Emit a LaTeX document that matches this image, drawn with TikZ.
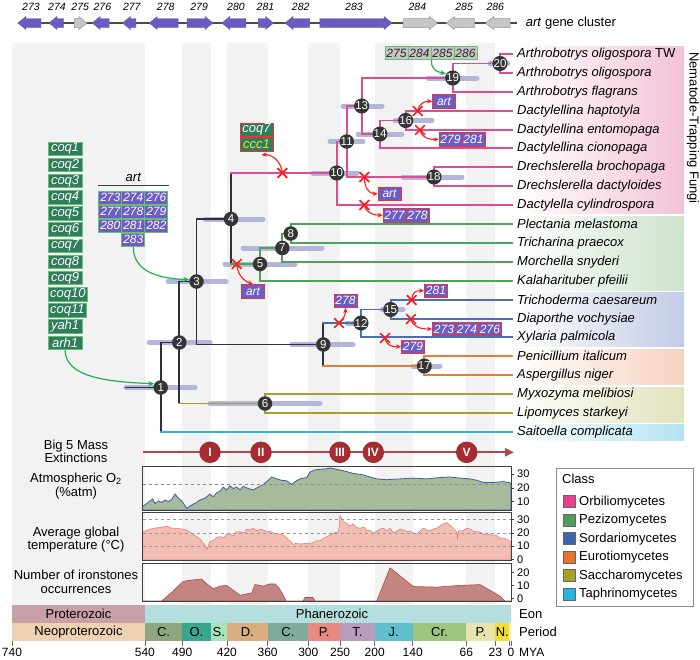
\documentclass[tikz,border=0pt]{standalone}
\usepackage{fontspec}
\setmainfont{Liberation Sans}
\usetikzlibrary{arrows.meta,shapes.misc,calc}
\pgfdeclarelayer{L0}
\pgfdeclarelayer{L1}
\pgfdeclarelayer{L2}
\pgfsetlayers{L0,L1,L2,main}
\definecolor{stripe}{HTML}{F2F2F2}
\definecolor{darkl}{HTML}{2E2E3C}
\definecolor{pinkl}{HTML}{DB4F8F}
\definecolor{greenl}{HTML}{4DA35A}
\definecolor{bluel}{HTML}{4A6FB8}
\definecolor{orangel}{HTML}{E87E35}
\definecolor{olivel}{HTML}{A6A030}
\definecolor{cyanl}{HTML}{2DB8DC}
\definecolor{barc}{HTML}{B3B6DA}
\definecolor{nodeg}{HTML}{353535}
\definecolor{artp}{HTML}{6B5CC6}
\definecolor{mred}{HTML}{E8323C}
\definecolor{cellg}{HTML}{62C070}
\definecolor{coqg}{HTML}{2F7D5B}
\definecolor{geneg}{HTML}{C6C6C6}
\definecolor{arrg}{HTML}{22B04A}
\definecolor{xred}{HTML}{FF1A1A}
\definecolor{cccy}{HTML}{F0DC3C}
\definecolor{bgpink}{HTML}{F3C3D8}
\definecolor{bggreen}{HTML}{CDE3CD}
\definecolor{bgblue}{HTML}{C3CCE6}
\definecolor{bgorange}{HTML}{F6D2C0}
\definecolor{bgolive}{HTML}{E2E2BD}
\definecolor{bgcyan}{HTML}{B3E4F1}
\definecolor{extred}{HTML}{A52C30}
\definecolor{extline}{HTML}{B0474A}
\definecolor{o2fill}{HTML}{A6BB9C}
\definecolor{o2line}{HTML}{3D5FA0}
\definecolor{tfill}{HTML}{F2BDB2}
\definecolor{tline}{HTML}{E57F73}
\definecolor{ifill}{HTML}{C48582}
\definecolor{iline}{HTML}{A5504E}
\definecolor{cOrb}{HTML}{E4428C}
\definecolor{cPez}{HTML}{4E9F5C}
\definecolor{cSor}{HTML}{3F62AE}
\definecolor{cEur}{HTML}{E8722C}
\definecolor{cSac}{HTML}{A5A123}
\definecolor{cTap}{HTML}{1DB6E0}
\definecolor{eProt}{HTML}{C9A0AA}
\definecolor{ePhan}{HTML}{B5DFDF}
\definecolor{pNeo}{HTML}{EED3B3}
\definecolor{pCam}{HTML}{8FA77F}
\definecolor{pOrd}{HTML}{3AA58E}
\definecolor{pSil}{HTML}{AAE2BD}
\definecolor{pDev}{HTML}{D9AD7E}
\definecolor{pCar}{HTML}{80AA9E}
\definecolor{pPer}{HTML}{E88A82}
\definecolor{pTri}{HTML}{B89DBA}
\definecolor{pJur}{HTML}{5FBFCB}
\definecolor{pCre}{HTML}{9DC67F}
\definecolor{pPal}{HTML}{E9E3AE}
\definecolor{pNeg}{HTML}{F6DA38}
\definecolor{pQua}{HTML}{F8F0A8}
\definecolor{genep}{HTML}{6B5BBF}
\newcommand\geneR[3]{\filldraw[#3] (#1,18.5) -- ({#2-8},18.5) -- ({#2-8},16.5) -- (#2,23) -- ({#2-8},29.5) -- ({#2-8},27.5) -- (#1,27.5) -- cycle;}
\newcommand\geneL[3]{\filldraw[#3] (#2,18.5) -- ({#1+8},18.5) -- ({#1+8},16.5) -- (#1,23) -- ({#1+8},29.5) -- ({#1+8},27.5) -- (#2,27.5) -- cycle;}
\newcommand\hpdbar[3]{\draw[hpd] ($(#1)+(#2,0)$) -- ($(#1)+(#3,0)$);}
\newcommand\otwopath{(142.7,506.4) -- (146.7,503.6) -- (150,500.9) -- (152.7,499) -- (155,503.6) -- (158.3,500.9) -- (161.7,502.3) -- (165,500) -- (168.3,501.7) -- (171.7,499.5) -- (175,494) -- (178.3,498.1) -- (181.7,500.9) -- (186.7,508.3) -- (191.7,505) -- (196.7,502.3) -- (200,500) -- (205,498.1) -- (208.3,495.4) -- (210,494) -- (213.3,496.8) -- (216.7,492.6) -- (220,491.2) -- (223.3,487.1) -- (226.7,489.9) -- (230,485.8) -- (233.3,488.5) -- (236.7,487.1) -- (240,489.9) -- (243.3,486.3) -- (248.3,488.5) -- (253.3,489.9) -- (258.3,487.1) -- (263.3,484.4) -- (266.7,481.6) -- (271.7,477) -- (276.7,478.9) -- (281.7,480.3) -- (286.7,480.8) -- (291.7,484.4) -- (295,481.6) -- (300,478.9) -- (306.7,477.5) -- (310,472.1) -- (315,469.9) -- (320,469.3) -- (326.7,468.8) -- (330,468) -- (336.7,469.3) -- (343.3,470.7) -- (353.3,473.4) -- (363.3,474.8) -- (370,477) -- (376.7,478.9) -- (386.7,479.7) -- (400,478.9) -- (413.3,478.1) -- (426.7,478.9) -- (440,477.5) -- (450,477) -- (460,478.1) -- (470,478.9) -- (476.7,480.3) -- (483.3,482.5) -- (493.3,482.5) -- (503.3,481.6) -- (511,483)}
\newcommand\temppath{(142.7,531.7) -- (148,530) -- (153,528.3) -- (160,527.5) -- (166.7,526) -- (171,528) -- (176.7,528.3) -- (182,529) -- (186.7,530) -- (191,533) -- (196.7,536.7) -- (200,539) -- (203.3,543.3) -- (205.5,546) -- (207.3,549.3) -- (208.5,545) -- (210,541.7) -- (214,540) -- (217,537) -- (220,536.7) -- (224,537.5) -- (227,534) -- (230,534) -- (233,536) -- (236,532) -- (240,531.7) -- (244,533) -- (247,529) -- (250,530) -- (253.3,528.3) -- (257,531) -- (260,529) -- (263.3,530) -- (267,532) -- (270,531) -- (273.3,533.3) -- (278,534) -- (283.3,535) -- (288,539) -- (293.3,544.3) -- (297,543) -- (300,544) -- (306.7,543.3) -- (312,543) -- (316,541) -- (320,540.7) -- (324,538) -- (327,537) -- (330,535) -- (334,533) -- (338.3,531.7) -- (339.2,526) -- (340,515.7) -- (342,519) -- (344,522) -- (346.7,523.3) -- (350,526) -- (353,524) -- (356,527) -- (360,528.3) -- (364,527) -- (367,531) -- (370,530) -- (373.3,533.3) -- (377,531) -- (380,529) -- (383.3,528.3) -- (387,531) -- (390,528) -- (393.3,532.7) -- (397,531) -- (400,529) -- (403.3,530) -- (407,531.5) -- (410,531) -- (413,533) -- (416.7,534) -- (420,531) -- (423,528) -- (426.7,530) -- (430,531) -- (433,529) -- (436.7,528.3) -- (440,526) -- (443,524) -- (446.7,522.7) -- (450,525) -- (453,528) -- (456.7,531.7) -- (457.5,538.3) -- (458.5,530.7) -- (462,531) -- (466.7,528.3) -- (470,529) -- (473,531) -- (476.7,531.7) -- (480,532) -- (483,534) -- (486.7,535) -- (490,534) -- (493,536) -- (496,535) -- (500,538.3) -- (504,538) -- (508,540) -- (511,541.7)}
\newcommand\ironpath{(142.7,601) -- (161.7,601) -- (172,592) -- (183.3,581.3) -- (192,580) -- (201.7,579.1) -- (207,584) -- (213.3,588.7) -- (220,586) -- (226.7,585.5) -- (233,590) -- (240,595.2) -- (246,594) -- (251.7,592.9) -- (255,584.6) -- (258,585) -- (263.3,586.2) -- (269,584) -- (275,583.9) -- (279,588) -- (283.3,595.2) -- (286,601) -- (303,601) -- (305,597.5) -- (313,597.5) -- (315,601) -- (376.7,601) -- (390,567.8) -- (413.3,586.5) -- (436.7,587.1) -- (458,585.5) -- (480,584.6) -- (500,596.1) -- (505,601) -- (511,601)}
\begin{document}
\begin{tikzpicture}[x=1pt,y=-1pt,
  font=\fontsize{13}{15}\selectfont,
  tnode/.style={circle, fill=nodeg, text=white, minimum size=14.5pt, inner sep=0pt, font=\fontsize{11.5}{11.5}\selectfont},
  sp/.style={anchor=west, inner xsep=5pt, inner ysep=0pt, font=\fontsize{13}{15}\selectfont},
  hpd/.style={line width=5pt, draw=barc, line cap=round},
  br/.style={line width=1.9pt, line cap=rect, line join=miter},
  dk/.style={br, draw=darkl},
  pk/.style={br, draw=pinkl},
  gr/.style={br, draw=greenl},
  bl/.style={br, draw=bluel},
  orn/.style={br, draw=orangel},
  ol/.style={br, draw=olivel},
  cy/.style={br, draw=cyanl},
  xm/.style={cross out, draw=xred, line width=1.7pt, minimum size=8pt, inner sep=0pt},
  mut/.style={draw=xred, line width=1.1pt, -{Stealth[length=5pt,width=4.5pt]}},
  mcell/.style={draw=mred, fill=artp, text=white, line width=0.8pt, font=\fontsize{12}{12}\selectfont\itshape, minimum width=23pt, minimum height=13.5pt, inner sep=0pt},
  acell/.style={mcell, draw=cellg},
  gcell/.style={mcell, draw=cellg, fill=geneg, text=black!85},
  coqbox/.style={fill=coqg, draw=cellg, line width=0.8pt, text=white, font=\fontsize{13}{13}\selectfont\itshape, minimum height=13.5pt, minimum width=34pt, inner xsep=2pt, inner ysep=0pt},
  garrow/.style={draw=arrg, line width=1.2pt, -{Stealth[length=6pt,width=5pt]}},
  gp/.style={fill=genep, draw=genep, line width=0.4pt},
  gg/.style={fill=geneg, draw=black!40, line width=0.5pt},
  glab/.style={font=\fontsize{10.5}{10.5}\selectfont\itshape, inner sep=0pt},
  extc/.style={circle, fill=extred, text=white, minimum size=21.5pt, inner sep=0pt, font=\fontsize{12}{12}\selectfont\bfseries},
  plotbox/.style={draw=black!75, line width=0.9pt},
  tk/.style={draw=black!75, line width=0.7pt},
  ylab/.style={anchor=west, inner sep=0pt, font=\fontsize{11}{11}\selectfont},
  plab/.style={align=center, font=\fontsize{13}{13.5}\selectfont},
  lsq/.style={draw=black!60, line width=0.5pt, minimum size=12pt, inner sep=0pt},
]
\useasboundingbox (0,0) rectangle (700,659);
\begin{pgfonlayer}{L0}
\fill[white] (0,0) rectangle (700,659);
\fill[stripe] (12,43) rectangle (144.9,604);
\fill[stripe] (182.2,43) rectangle (210.6,604);
\fill[stripe] (226.9,43) rectangle (267.6,604);
\fill[stripe] (308.3,43) rectangle (340.1,604);
\fill[stripe] (374.7,43) rectangle (412.7,604);
\fill[stripe] (466.3,43) rectangle (495.4,604);
\shade[left color=white, right color=bgpink] (513,46) rectangle (684,213.5);
\shade[left color=white, right color=bggreen] (513,216.5) rectangle (684,290);
\shade[left color=white, right color=bgblue] (513,292.5) rectangle (684,346);
\shade[left color=white, right color=bgorange] (513,349) rectangle (684,384.5);
\shade[left color=white, right color=bgolive] (513,387) rectangle (684,422);
\shade[left color=white, right color=bgcyan] (513,424.5) rectangle (684,440.5);
\end{pgfonlayer}
% gene cluster
\coordinate (gl0) at (17.8,23);
\coordinate (gl1) at (516.7,23);
\draw[black!70, line width=1.3pt] (gl0) -- (gl1);
\geneL{17.8}{41}{gp}
\geneL{49}{63.7}{gp}
\geneR{74.4}{86.9}{gg}
\geneL{92.2}{109.1}{gp}
\geneL{122.5}{135.9}{gp}
\geneL{149.2}{178.2}{gp}
\geneR{187}{213}{gp}
\geneL{221.8}{245.9}{gp}
\geneR{258.4}{273.5}{gp}
\geneL{285}{309.6}{gp}
\geneR{319.8}{392}{gp}
\geneR{403.1}{437.4}{gg}
\geneL{446.3}{474.4}{gg}
\geneL{485.5}{510}{gg}
\foreach \x/\t in {31/273, 57/274, 80.2/275, 102.4/276, 131.8/277, 165.7/278, 199.1/279, 236/280, 265.5/281, 300.7/282, 354/283, 417.4/284, 464.1/285, 495.3/286}
  {\node[glab] (g\t) at (\x,7) {\t};}
\node[anchor=west, inner sep=0pt] (gclab) at (525.6,23) {\textit{art} gene cluster};
% species
\foreach \i/\nm in {1/{\textit{Arthrobotrys oligospora} TW}, 2/{\textit{Arthrobotrys oligospora}}, 3/{\textit{Arthrobotrys flagrans}}, 4/{\textit{Dactylellina haptotyla}}, 5/{\textit{Dactylellina entomopaga}}, 6/{\textit{Dactylellina cionopaga}}, 7/{\textit{Drechslerella brochopaga}}, 8/{\textit{Drechslerella dactyloides}}, 9/{\textit{Dactylella cylindrospora}}, 10/{\textit{Plectania melastoma}}, 11/{\textit{Tricharina praecox}}, 12/{\textit{Morchella snyderi}}, 13/{\textit{Kalaharituber pfeilii}}, 14/{\textit{Trichoderma caesareum}}, 15/{\textit{Diaporthe vochysiae}}, 16/{\textit{Xylaria palmicola}}, 17/{\textit{Penicillium italicum}}, 18/{\textit{Aspergillus niger}}, 19/{\textit{Myxozyma melibiosi}}, 20/{\textit{Lipomyces starkeyi}}, 21/{\textit{Saitoella complicata}}}
  {\node[sp] (s\i) at (512,{round(54+18.9*(\i-1))}) {\nm};}
\node[rotate=-90] (ntf) at (693,128) {Nematode-Trapping Fungi};
% tree nodes
\node[tnode] (n1) at (160.7,387.5) {1};
\node[tnode] (n2) at (179.3,342.5) {2};
\node[tnode] (n3) at (196.5,281.5) {3};
\node[tnode] (n4) at (231,219) {4};
\node[tnode] (n5) at (260,264) {5};
\node[tnode] (n6) at (265,403.5) {6};
\node[tnode] (n7) at (282.3,248) {7};
\node[tnode] (n8) at (290.7,233.5) {8};
\node[tnode] (n9) at (323.3,344.5) {9};
\node[tnode] (n10) at (336.7,173) {10};
\node[tnode] (n11) at (346.7,141.5) {11};
\node[tnode] (n12) at (361,323) {12};
\node[tnode] (n13) at (361.7,106) {13};
\node[tnode] (n14) at (380,134) {14};
\node[tnode] (n15) at (390.7,309.5) {15};
\node[tnode] (n16) at (405.7,120.5) {16};
\node[tnode] (n17) at (424.3,366) {17};
\node[tnode] (n18) at (434,177) {18};
\node[tnode] (n19) at (452.7,78) {19};
\node[tnode] (n20) at (500,63.5) {20};
\coordinate (root) at (126,387.5);
\begin{pgfonlayer}{L1}
\hpdbar{n1}{-34.7}{34.3}
\hpdbar{n2}{-30.3}{30.7}
\hpdbar{n3}{-28.5}{29.5}
\hpdbar{n4}{-26}{32}
\hpdbar{n5}{-35}{35}
\hpdbar{n6}{-55}{55}
\hpdbar{n7}{-39.3}{39.7}
\hpdbar{n9}{-31.6}{29.7}
\hpdbar{n10}{-23.7}{20.3}
\hpdbar{n11}{-16.7}{16.3}
\hpdbar{n12}{-14}{4}
\hpdbar{n13}{-18.7}{20.3}
\hpdbar{n14}{-22}{22}
\hpdbar{n15}{-8.7}{12.3}
\hpdbar{n16}{-10.7}{26.3}
\hpdbar{n17}{-11.3}{15.7}
\hpdbar{n18}{-31}{28}
\hpdbar{n19}{-24.7}{24.3}
\hpdbar{n20}{-10}{8}
\end{pgfonlayer}
\begin{pgfonlayer}{L2}
\draw[dk] (root) -- (n1);
\draw[dk] (n2) -| (n1);
\draw[dk] (n1) -- (n1 |- s21);
\draw[cy] (n1 |- s21) -- (s21.west);
\draw[dk] (n3) -| (n2);
\draw[dk] (n2) -- (n2 |- n6);
\draw[ol] (n2 |- n6) -- (n6);
\draw[ol] (s19.west) -| (n6) |- (s20.west);
\draw[dk] (n4) -| (n3) |- (n9);
\draw[dk] (n4 |- n10) -- (n4 |- n5);
\draw[pk] (n4 |- n10) -- (n10);
\draw[gr] (n4 |- n5) -- (n5);
\draw[gr] (n7) -| (n5) |- (s13.west);
\draw[gr] (n8) -| (n7) |- (s12.west);
\draw[gr] (s10.west) -| (n8) |- (s11.west);
\draw[dk] (n9 |- n12) -- (n9 |- n17);
\draw[bl] (n9 |- n12) -- (n12);
\draw[orn] (n9 |- n17) -- (n17);
\draw[bl] (n15) -| (n12) |- (s16.west);
\draw[bl] (s14.west) -| (n15) |- (s15.west);
\draw[orn] (s17.west) -| (n17) |- (s18.west);
\draw[pk] (n11) -| (n10) |- (s9.west);
\draw[pk] (n13) -| (n11) |- (n18);
\draw[pk] (s7.west) -| (n18) |- (s8.west);
\draw[pk] (n19) -| (n13) |- (n14);
\draw[pk] (n20) -| (n19) |- (s3.west);
\draw[pk] (s1.west) -| (n20) |- (s2.west);
\draw[pk] (n16) -| (n14) |- (s6.west);
\draw[pk] (s4.west) -| (n16) |- (s5.west);
\end{pgfonlayer}
% coq list
\foreach \t [count=\k from 0] in {coq1,coq2,coq3,coq4,coq5,coq6,coq7,coq8,coq9,coq10,coq11,yah1,arh1}
  {\node[coqbox, anchor=west] (q\t) at (47.7,{148.8+16.16*\k}) {\t};}
% art grid
\node[inner sep=0pt, font=\fontsize{13}{13}\selectfont\itshape] (artlbl) at (133.3,177) {art};
\coordinate (artl0) at (98,185.5);
\coordinate (artl1) at (168.5,185.5);
\draw[black!75, line width=1pt] (artl0) -- (artl1);
\node[acell] (a273) at (110.3,197.8) {273};
\node[acell] (a274) at (133.3,197.8) {274};
\node[acell] (a276) at (156.3,197.8) {276};
\node[acell] (a277) at (110.3,211.8) {277};
\node[acell] (a278) at (133.3,211.8) {278};
\node[acell] (a279) at (156.3,211.8) {279};
\node[acell] (a280) at (110.3,225.8) {280};
\node[acell] (a281) at (133.3,225.8) {281};
\node[acell] (a282) at (156.3,225.8) {282};
\node[acell] (a283) at (133.3,239.8) {283};
\draw[garrow] (a283.south) .. controls +(0,25) and +(-30,-1) .. (n3.165);
\draw[garrow] (qarh1.south) .. controls +(0,28) and +(-45,-2) .. (n1.150);
% gained genes
\node[gcell] (c275) at (396.5,53) {275};
\node[gcell] (c284) at (419.5,53) {284};
\node[gcell] (c285) at (442.5,53) {285};
\node[gcell] (c286) at (465.5,53) {286};
\draw[garrow] (c284.south east) .. controls +(0,10) and +(-10,-3) .. (n19.150);
% coq7 / ccc1
\node[coqbox, draw=mred, minimum width=33pt] (bcoq7) at (256.5,129.8) {coq7};
\node[coqbox, draw=mred, minimum width=33pt, text=cccy] (bccc1) at (256.5,144.3) {ccc1};
% loss boxes
\node[mcell] (artb) at (389.5,193.8) {art};
\node[mcell] (c277) at (394.5,215.2) {277};
\node[mcell] (c278) at (417.5,215.2) {278};
\node[mcell] (artd) at (444,101.3) {art};
\node[mcell] (c279e) at (450.5,139.5) {279};
\node[mcell] (c281e) at (473.5,139.5) {281};
\node[mcell] (artf) at (253,291.5) {art};
\node[mcell] (c278g) at (345.5,300.7) {278};
\node[mcell] (c281h) at (436,290.7) {281};
\node[mcell] (c273i) at (444,329) {273};
\node[mcell] (c274i) at (467,329) {274};
\node[mcell] (c276i) at (490,329) {276};
\node[mcell] (c279j) at (413,346.7) {279};
% loss marks
\node[xm] (xa) at (282.3,173) {};
\node[xm] (xb) at (364.3,177) {};
\node[xm] (xc) at (364.3,205) {};
\node[xm] (xd) at (417.7,111) {};
\node[xm] (xe) at (420,130) {};
\node[xm] (xf) at (236.7,264) {};
\node[xm] (xg) at (339,323) {};
\node[xm] (xh) at (411.7,300) {};
\node[xm] (xi) at (411,319) {};
\node[xm] (xj) at (385,338) {};
\coordinate (ea) at ($(bccc1.south)+(5,3.5)$);
\draw[mut] (xa.center) .. controls +(-1,-12) and +(10,-1) .. (ea);
\draw[mut] (xb.center) .. controls +(0,10) and +(-9,0) .. (artb.west);
\draw[mut] (xc.center) .. controls +(1,7) and +(-10,0) .. (c277.west);
\draw[mut] (xd.center) .. controls +(2,-8) and +(-8,0) .. (artd.west);
\draw[mut] (xe.center) .. controls +(2,8) and +(-10,0) .. (c279e.west);
\draw[mut] (xf.center) .. controls +(1,12) and +(-8,-3) .. (artf.north);
\draw[mut] (xg.center) .. controls +(5,-4) and +(0,6) .. (c278g.south);
\draw[mut] (xh.center) .. controls +(1,-9) and +(-8,0) .. (c281h.west);
\draw[mut] (xi.center) .. controls +(2,8) and +(-12,0) .. (c273i.west);
\draw[mut] (xj.center) .. controls +(2,8) and +(-10,0) .. (c279j.west);
% mass extinctions
\node[plab] (lbig) at (76,451.5) {Big 5 Mass\\Extinctions};
\coordinate (exa) at (143,452.3);
\coordinate (exb) at (514,452.3);
\draw[extline, line width=2.2pt, -{Triangle[length=9pt,width=8pt]}] (exa) -- (exb);
\node[extc] (e1) at (210,452.3) {I};
\node[extc] (e2) at (261,452.3) {II};
\node[extc] (e3) at (340,452.3) {III};
\node[extc] (e4) at (373.3,452.3) {IV};
\node[extc] (e5) at (466.7,452.3) {V};
% O2 plot
\filldraw[fill=o2fill, draw=o2line, line width=0.8pt] (142.7,510) -- \otwopath -- (511,510) -- cycle;
\draw[black!45, dashed, line width=0.7pt] (142.7,484) -- (511,484);
\draw[plotbox] (142.7,466.5) rectangle (511,510);
\node[plab] (lo2) at (76,486) {Atmospheric O\textsubscript{2}\\(\%atm)};
\foreach \y/\t [count=\k] in {474.1/30, 487.9/20, 501.7/10}
  {\draw[tk] (511,\y) -- (514,\y); \node[ylab] (yo\k) at (517,\y) {\t};}
% temperature plot
\filldraw[fill=tfill, draw=tline, line width=0.6pt] (142.7,560) -- \temppath -- (511,560) -- cycle;
\foreach \y in {519,533,546.5}
  {\draw[black!40, dashed, line width=0.6pt] (142.7,\y) -- (511,\y);}
\draw[plotbox] (142.7,512.5) rectangle (511,560);
\node[plab] (ltemp) at (76,539.5) {Average global\\temperature (°C)};
\foreach \y/\t [count=\k] in {519.6/30, 532.9/20, 546.2/10, 559.5/0}
  {\draw[tk] (511,\y) -- (514,\y); \node[ylab] (yt\k) at (517,\y) {\t};}
% ironstones plot
\filldraw[fill=ifill, draw=iline, line width=0.6pt] \ironpath -- cycle;
\draw[plotbox] (142.7,563) rectangle (511,601);
\node[plab] (liron) at (76,582) {Number of ironstones\\occurrences};
\foreach \y/\t [count=\k] in {572.4/20, 585.5/10, 598.5/0}
  {\draw[tk] (511,\y) -- (514,\y); \node[ylab] (yi\k) at (517,\y) {\t};}
% legend
\node[draw=black!45, line width=1pt, fill=white, minimum width=137pt, minimum height=137.7pt, anchor=north west, inner sep=0pt] (leg) at (555.7,468) {};
\node[anchor=west, inner sep=0pt] (legt) at (562,479) {Class};
\foreach \c/\t [count=\k] in {cOrb/Orbiliomycetes, cPez/Pezizomycetes, cSor/Sordariomycetes, cEur/Eurotiomycetes, cSac/Saccharomycetes, cTap/Taphrinomycetes}
  {\node[lsq, fill=\c] (lq\k) at (569,{501.7+18.5*(\k-1)}) {};
   \node[anchor=west, inner sep=0pt] (lt\k) at (579,{501.7+18.5*(\k-1)}) {\t};}
% time scale
\fill[eProt] (12,605) rectangle (144.9,623);
\fill[ePhan] (144.9,605) rectangle (511,623);
\node (tprot) at (78.5,614) {Proterozoic};
\node (tphan) at (332,614) {Phanerozoic};
\fill[pNeo] (12,623) rectangle (144.9,641);
\node (tneo) at (78.5,632) {Neoproterozoic};
\foreach \a/\b/\c/\l [count=\k] in {144.9/182.2/pCam/C., 182.2/210.6/pOrd/O., 210.6/226.9/pSil/S., 226.9/267.6/pDev/D., 267.6/308.3/pCar/C., 308.3/340.1/pPer/P., 340.1/374.7/pTri/T., 374.7/412.7/pJur/J., 412.7/466.3/pCre/Cr., 466.3/495.4/pPal/P., 495.4/509.2/pNeg/N.}
  {\fill[\c] (\a,623) rectangle (\b,641);
   \node[inner sep=0pt] (per\k) at ({(\a+\b)/2},632) {\l};}
\fill[pQua] (509.2,623) rectangle (511,641);
\node[anchor=west, inner sep=0pt] (leon) at (519,614) {Eon};
\node[anchor=west, inner sep=0pt] (lper) at (519,632) {Period};
\foreach \x/\t [count=\k] in {12/740, 144.9/540, 182.2/490, 226.9/420, 267.6/360, 308.3/300, 340.1/250, 374.7/200, 412.7/140, 466.3/66, 495.4/23, 511/0}
  {\draw[tk, draw=black!60] (\x,641) -- (\x,646);
   \node[inner sep=0pt, font=\fontsize{12}{12}\selectfont] (tl\k) at (\x,652) {\t};}
\draw[tk, draw=black!60] (509.2,641) -- (509.2,646);
\node[anchor=west, inner sep=0pt, font=\fontsize{12}{12}\selectfont] (lmya) at (519,652) {MYA};
\end{tikzpicture}
\end{document}
